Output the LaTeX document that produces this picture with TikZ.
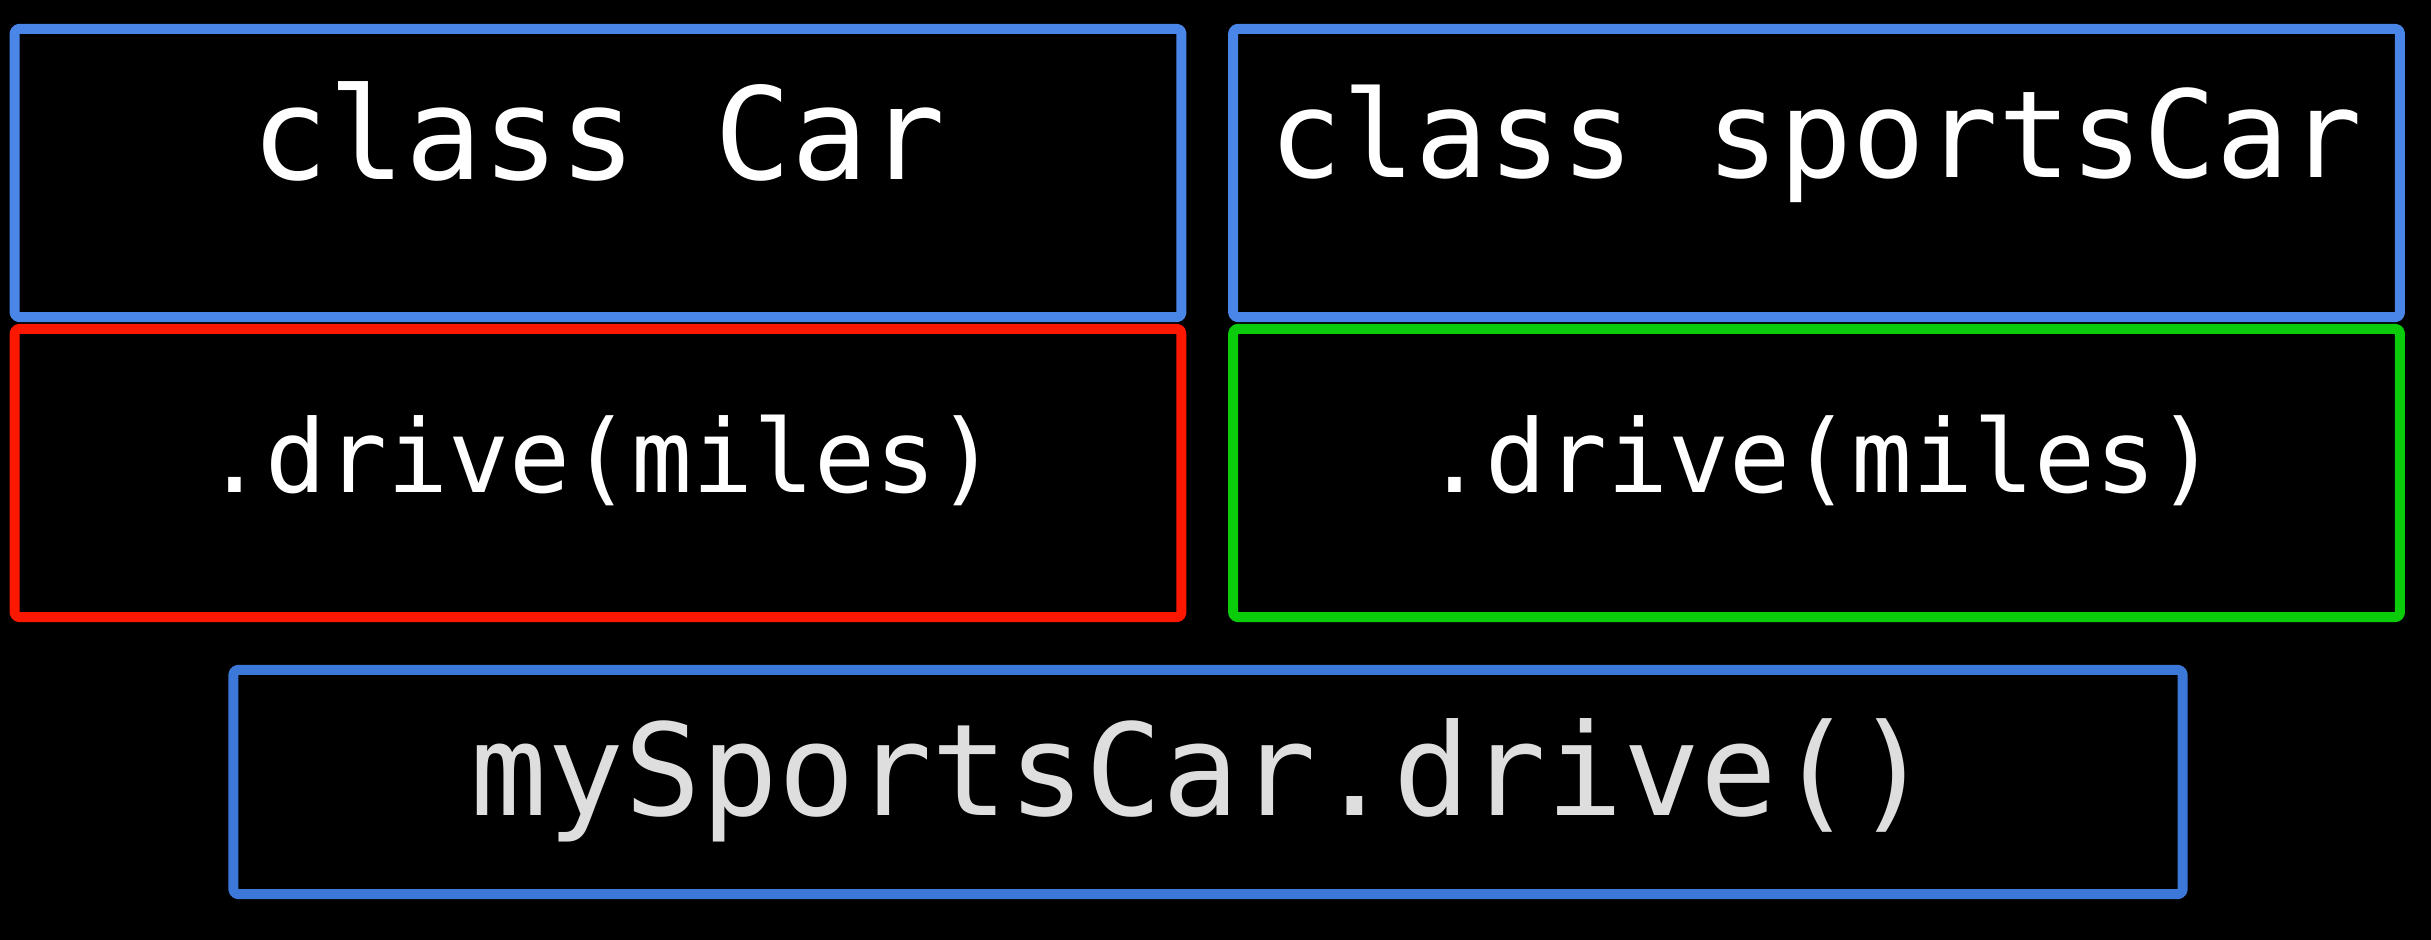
\documentclass[tikz,border=0pt]{standalone}
\usepackage{fontspec}
\setmonofont{DejaVu Sans Mono}
\usepackage{tikz}

\definecolor{classblue}{RGB}{74,134,232}
\definecolor{callblue}{RGB}{60,120,216}
\definecolor{overred}{RGB}{252,24,0}
\definecolor{overgreen}{RGB}{10,204,10}
\definecolor{calltext}{RGB}{222,222,222}

\begin{document}
\begin{tikzpicture}[
			x=0.01cm,
			y=-0.01cm,
			line join=round,
			box/.style={draw, line width=0.1cm, rounded corners=1.2pt, inner sep=0pt,
				minimum width=11.66cm, minimum height=2.88cm},
			classbox/.style={box, draw=classblue},
			codetext/.style={text=white, anchor=base, inner sep=0pt, font=\ttfamily}
			]
			% Black background, fixes the page size
			\fill[black] (0,0) rectangle (2431,940);
			\useasboundingbox (0,0) rectangle (2431,940);
			
			% Upper row: the two classes
			\node[classbox] (car) at (598,173) {};
			\node[classbox] (sports) at (1816.5,173) {};
			
			% Middle row: the drive methods
			\node[box, draw=overred] (cardrive) at (598,473) {};
			\node[box, draw=overgreen] (sportsdrive) at (1816.5,473) {};
			
			% Lower row: the call
			\node[box, draw=callblue, minimum width=19.48cm, minimum height=2.24cm]
			(call) at (1208,782) {};
			
			% Texts
			\node[codetext, font=\ttfamily\fontsize{36.4}{40}\selectfont]
			(carname) at (598.5,180) {class Car};
			\node[codetext, font=\ttfamily\fontsize{34.4}{38}\selectfont]
			(sportsname) at (1816,178) {class sportsCar};
			\node[codetext, font=\ttfamily\fontsize{28.8}{32}\selectfont]
			(carmethod) at (601,492) {.drive(miles)};
			\node[codetext, font=\ttfamily\fontsize{28.8}{32}\selectfont]
			(sportsmethod) at (1821,492) {.drive(miles)};
			\node[codetext, text=calltext, font=\ttfamily\fontsize{36.3}{40}\selectfont]
			(callname) at (1201,815) {mySportsCar.drive()};
		\end{tikzpicture}
\end{document}
